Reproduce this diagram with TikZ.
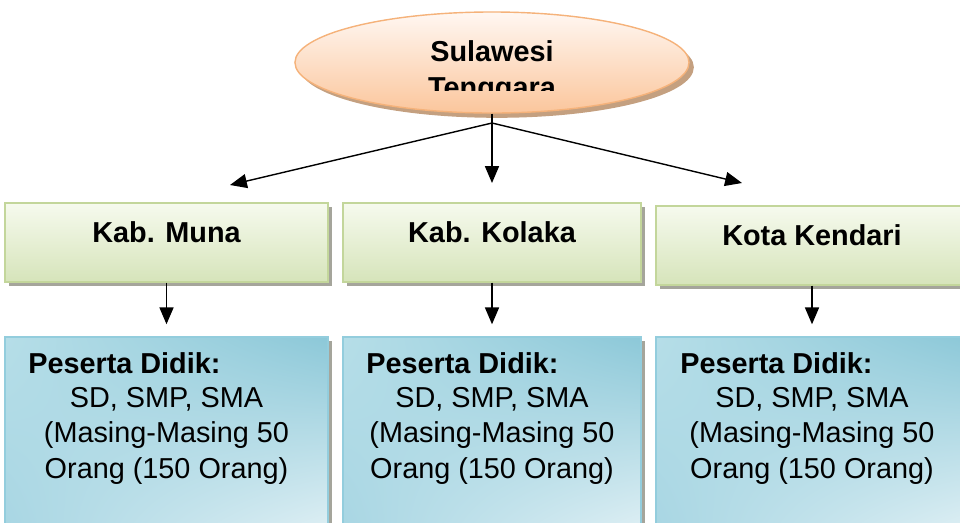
\documentclass[tikz,border=0pt]{standalone}
\usepackage{fontspec}
\setmainfont{Liberation Sans}
\usetikzlibrary{shapes.geometric, arrows.meta, positioning, shadows, shadings}
\definecolor{sultraOrange}{RGB}{245,178,122}
\definecolor{sultraPeachTop}{RGB}{255,247,242}
\definecolor{sultraPeach}{RGB}{251,198,156}
\definecolor{sultraShadow}{RGB}{196,160,128}
\definecolor{kabGreen}{RGB}{195,214,155}
\definecolor{kabGreenTop}{RGB}{246,250,238}
\definecolor{kabGreenBottom}{RGB}{214,228,186}
\definecolor{didikBlue}{RGB}{147,205,221}
\definecolor{didikUL}{RGB}{182,222,232}
\definecolor{didikUR}{RGB}{140,200,216}
\definecolor{didikLL}{RGB}{168,214,227}
\definecolor{didikLR}{RGB}{222,239,244}
\definecolor{boxShadow}{RGB}{165,165,155}

\begin{document}
\begin{tikzpicture}[
        x=0.025cm, y=-0.025cm,
        bigfont/.style={font=\fontsize{20.5}{24.9}\selectfont},
        boldfont/.style={font=\fontsize{20.5}{24.9}\selectfont\bfseries},
        prov/.style={ellipse, draw=sultraOrange, line width=1pt, top color=sultraPeachTop, bottom color=sultraPeach, minimum width=9.85cm, minimum height=2.525cm, drop shadow={shadow xshift=0.12cm, shadow yshift=-0.12cm, fill=sultraShadow, opacity=1}},
        kab/.style={rectangle, draw=kabGreen, line width=1pt, top color=kabGreenTop, bottom color=kabGreenBottom, minimum height=1.975cm, text height=0.6cm, text depth=0.6cm, boldfont, drop shadow={shadow xshift=0.1cm, shadow yshift=-0.1cm, fill=boxShadow, opacity=1}},
        didik/.style={rectangle, draw=didikBlue, line width=1pt, upper left=didikUL, upper right=didikUR, lower left=didikLL, lower right=didikLR, minimum height=4.825cm, drop shadow={shadow xshift=0.1cm, shadow yshift=-0.1cm, fill=boxShadow, opacity=1}},
        arrow/.style={-{Triangle[length=12pt,width=10pt]}, line width=1pt}
    ]
        \useasboundingbox (0,0) rectangle (960,522);

        % Province
        \node[prov] (sultra) at (492,62.5) {};
        \begin{scope}
            \clip (290,0) rectangle (700,90);
            \node[boldfont, align=center, anchor=base] (sultraname) at (492,97) {Sulawesi\\Tenggara};
        \end{scope}

        % Regencies
        \node[kab, minimum width=8.075cm] (muna) at (166.5,242.5) {Kab. Muna};
        \node[kab, minimum width=7.45cm] (kolaka) at (492,242.5) {Kab. Kolaka};
        \node[kab, minimum width=7.8cm] (kendari) at (812,245.5) {Kota Kendari};

        \coordinate (split) at (492,123);
        \coordinate (tmuna) at (230,185);
        \coordinate (tkolaka) at (492,183);
        \coordinate (tkendari) at (742,183);

        \draw[arrow] (sultra.south) -- (tkolaka);
        \draw[arrow] (split) -- (tmuna);
        \draw[arrow] (split) -- (tkendari);

        % Students
        \node[didik, minimum width=8.075cm] (dmuna) at (166.5,433.5) {};
        \node[didik, minimum width=7.45cm] (dkolaka) at (492,433.5) {};
        \node[didik, minimum width=7.8cm] (dkendari) at (812,433.5) {};

        \draw[arrow, shorten >=0.3cm] (muna.south) -- (dmuna.north);
        \draw[arrow, shorten >=0.3cm] (kolaka.south) -- (dkolaka.north);
        \draw[arrow, shorten >=0.3cm] (kendari.south) -- (dkendari.north);

        \node[boldfont, anchor=base west, inner sep=0] (pmuna) at (28,373) {Peserta Didik:};
        \node[bigfont, align=center, anchor=base, inner sep=0] (lmuna) at (166.5,478) {SD, SMP, SMA\\(Masing-Masing 50\\Orang (150 Orang)};
        \node[boldfont, anchor=base west, inner sep=0] (pkolaka) at (366,373) {Peserta Didik:};
        \node[bigfont, align=center, anchor=base, inner sep=0] (lkolaka) at (492,478) {SD, SMP, SMA\\(Masing-Masing 50\\Orang (150 Orang)};
        \node[boldfont, anchor=base west, inner sep=0] (pkendari) at (680,373) {Peserta Didik:};
        \node[bigfont, align=center, anchor=base, inner sep=0] (lkendari) at (812,478) {SD, SMP, SMA\\(Masing-Masing 50\\Orang (150 Orang)};
    \end{tikzpicture}
\end{document}
